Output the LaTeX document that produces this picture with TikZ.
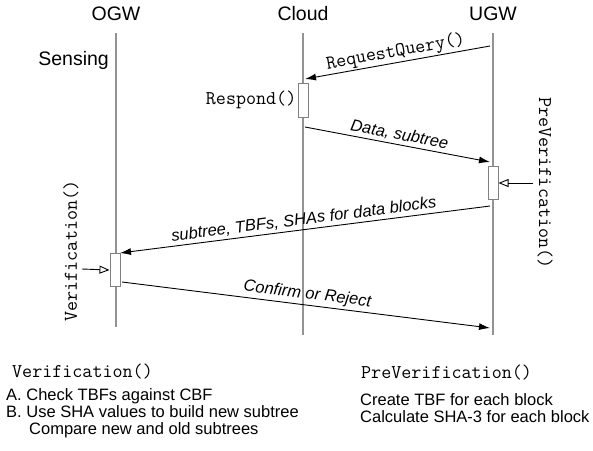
\documentclass[tikz,border=0pt]{standalone}
\usepackage{fontspec}
\setmainfont{Liberation Sans}
\usetikzlibrary{arrows.meta,calc}
\tikzstyle{lifeline} = [draw=gray!85, line width=2pt]
\tikzstyle{msg} = [draw, line width=0.9pt, -{Latex[length=11pt,width=7pt]}]
\tikzstyle{call} = [draw, line width=0.9pt, -{Triangle[open,length=10pt,width=8pt]}]
\tikzstyle{activation} = [draw=gray, fill=white, rectangle, line width=1pt, minimum width=10pt, inner sep=0pt]
\tikzstyle{actor} = [font=\fontsize{19.5}{22}\selectfont]
\tikzstyle{func} = [font=\fontsize{19.5}{22}\selectfont\ttfamily]
\tikzstyle{lbl} = [font=\fontsize{16.5}{18}\selectfont\itshape, sloped, above, inner sep=2.5pt]
\tikzstyle{note} = [font=\fontsize{16.5}{17}\selectfont, align=left, anchor=north west, inner sep=0pt]

\begin{document}
\begin{tikzpicture}[x=1pt, y=-1pt]
        \useasboundingbox (0,0) rectangle (593,450);
        \node[actor] (ogw) at (116,14) {OGW};
        \node[actor] (cloud) at (303,14) {Cloud};
        \node[actor] (ugw) at (493,14) {UGW};
        \coordinate (ogwtop) at (116,33);
        \coordinate (ogwend) at (116,327);
        \coordinate (cloudtop) at (303,33);
        \coordinate (cloudend) at (303,335);
        \coordinate (ugwtop) at (493,33);
        \coordinate (ugwend) at (493,335);
        \path[lifeline] (ogwtop) -- (ogwend);
        \path[lifeline] (cloudtop) -- (cloudend);
        \path[lifeline] (ugwtop) -- (ugwend);
        \node[actor, anchor=east, inner sep=0pt] (sensing) at (109,60) {Sensing};
        \node[activation, minimum height=34pt] (respond) at (303,100) {};
        \node[activation, minimum height=33pt] (prever) at (493,183) {};
        \node[activation, minimum height=33pt] (verif) at (115,270) {};
        \node[func, anchor=east, inner sep=1pt] (respondtxt) at (respond.west) {Respond()};
        \node[func, rotate=-90] (prevertxt) at (545,183) {PreVerification()};
        \node[func, rotate=90] (veriftxt) at (71,251) {Verification()};
        \coordinate (query) at (490,46);
        \coordinate (queryin) at (305,79);
        \coordinate (data) at (305,127);
        \coordinate (datain) at (490,162);
        \coordinate (subtree) at (490,206);
        \coordinate (subtreein) at (120,253);
        \coordinate (confirm) at (122,282);
        \coordinate (confirmin) at (490,328);
        \coordinate (preverin) at (533,183);
        \coordinate (verifin) at (82,269);
        \path[msg] (query) -- node[func, sloped, above, inner sep=1pt] (querytxt) {RequestQuery()} (queryin);
        \path[msg] (data) -- node[lbl] (datatxt) {Data, subtree} (datain);
        \path[msg] (subtree) -- node[lbl] (subtreetxt) {subtree, TBFs, SHAs for data blocks} (subtreein);
        \path[msg] (confirm) -- node[lbl] (confirmtxt) {Confirm or Reject} (confirmin);
        \path[call] (preverin) -- (prever.east);
        \path[call] (verifin) -- (verif.west);
        \node[func, anchor=west, inner sep=0pt] (veriftitle) at (12,372) {Verification()};
        \node[note] (verifsteps) at (6,388) {A. Check TBFs against CBF\\B. Use SHA values to build new subtree\\\hspace*{23pt}Compare new and old subtrees};
        \node[func, anchor=west, inner sep=0pt] (prevertitle) at (361,373) {PreVerification()};
        \node[note] (prepsteps) at (360,393) {Create TBF for each block\\Calculate SHA-3 for each block};
    \end{tikzpicture}
\end{document}
